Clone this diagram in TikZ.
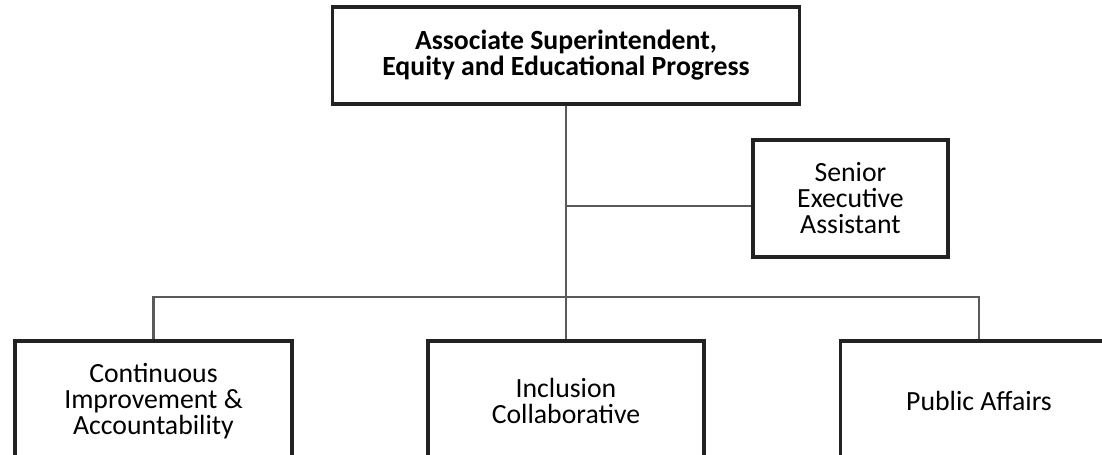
\documentclass[tikz,border=0pt]{standalone}
\usepackage{fontspec}
\setmainfont{Carlito}
\usepackage{xcolor}
\definecolor{boxline}{HTML}{222222}
\definecolor{linkline}{HTML}{5A5A5A}
\tikzset{
  unit/.style={draw=boxline, line width=1.8pt, align=center, font=\fontsize{15.8}{14.8}\selectfont,
    inner sep=0pt},
  link/.style={draw=linkline, line width=1.2pt}
}

\begin{document}
\begin{tikzpicture}[x=0.02cm, y=-0.02cm]
    \useasboundingbox (0, 0) rectangle (1102, 455);
    \clip (0, 0) rectangle (1102, 455);
    \path (566, 55.5) node [unit, minimum width=9.34cm, minimum height=1.94cm] (asup)
	{\bfseries Associate Superintendent,\\ \bfseries Equity and Educational Progress};
    \path (850.5, 198.5) node [unit, minimum width=3.9cm, minimum height=2.34cm] (sea)
	{Senior\\Executive\\Assistant};
    \path (153.5, 401) node [unit, minimum width=5.54cm, minimum height=2.4cm] (cia)
	{Continuous\\Improvement \&\\Accountability};
    \path (566, 401) node [unit, minimum width=5.52cm, minimum height=2.4cm] (inc)
	{Inclusion\\Collaborative};
    \path (979, 401) node [unit, minimum width=5.54cm, minimum height=2.4cm] (pa)
	{Public Affairs};
    \coordinate (bus) at (566, 297);
    \coordinate (aside) at (566, 206);
    \draw [link] (asup.south) -- (inc.north);
    \draw [link] (aside) -- (aside -| sea.west);
    \draw [link] (cia.north) |- (bus) -| (pa.north);
\end{tikzpicture}
\end{document}
